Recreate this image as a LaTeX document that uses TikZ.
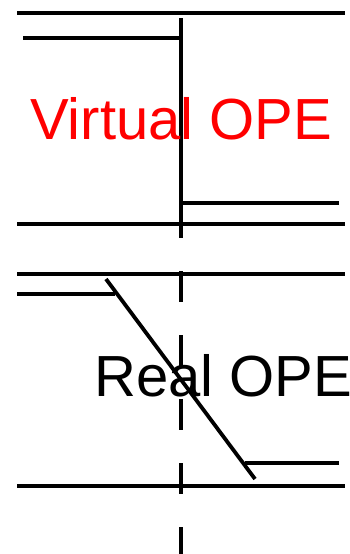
\documentclass[tikz,border=0pt]{standalone}
\usepackage{fontspec}
\setmainfont{Liberation Sans}
\begin{document}
\begin{tikzpicture}[x=1pt,y=-1pt,
  ln/.style={line width=3.8pt},
  lbl/.style={anchor=base west,inner sep=0pt,font=\fontsize{58}{60}\selectfont}]
\useasboundingbox (0,0) rectangle (349,554);
\clip (0,0) rectangle (349,554);
% top panel
\coordinate (t1a) at (17,13);  \coordinate (t1b) at (345,13);
\coordinate (t2a) at (23,38);  \coordinate (t2b) at (181,38);
\coordinate (tva) at (181,18); \coordinate (tvb) at (181,238);
\coordinate (t3a) at (181,203);\coordinate (t3b) at (339,203);
\coordinate (t4a) at (17,224); \coordinate (t4b) at (345,224);
\draw[ln] (t1a) -- (t1b);
\draw[ln] (t2a) -- (t2b);
\draw[ln] (tva) -- (tvb);
\draw[ln] (t3a) -- (t3b);
\draw[ln] (t4a) -- (t4b);
\node[lbl,text=red] (virt) at (30,139) {Virtual OPE};
% bottom panel
\coordinate (b1a) at (17,274);  \coordinate (b1b) at (345,274);
\coordinate (b2a) at (17,294);  \coordinate (b2b) at (115,294);
\coordinate (bda) at (106,279); \coordinate (bdb) at (255,479);
\coordinate (b3a) at (245,463); \coordinate (b3b) at (339,463);
\coordinate (b4a) at (17,486);  \coordinate (b4b) at (345,486);
\coordinate (bva) at (181,271); \coordinate (bvb) at (181,554);
\draw[ln] (b1a) -- (b1b);
\draw[ln] (b2a) -- (b2b);
\draw[ln] (bda) -- (bdb);
\draw[ln] (b3a) -- (b3b);
\draw[ln] (b4a) -- (b4b);
\draw[ln,dash pattern=on 31pt off 33pt] (bva) -- (bvb);
\node[lbl,text=black] (real) at (94,396) {Real OPE};
\end{tikzpicture}
\end{document}
